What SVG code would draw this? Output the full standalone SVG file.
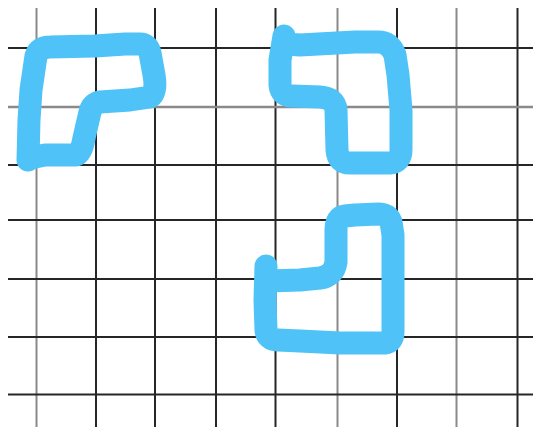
<svg xmlns="http://www.w3.org/2000/svg" width="533" height="427" viewBox="0 0 533 427">
<style>
.d{stroke:#262626;stroke-width:2}
.g{stroke:#8a8a8a;stroke-width:2}
.s{fill:none;stroke:#4FC3F7;stroke-width:23;stroke-linecap:round;stroke-linejoin:round}
</style>
<rect width="533" height="427" fill="#fff"/>
<g id="grid">
<line class="g" x1="36.5" y1="8" x2="36.5" y2="427"/>
<line class="d" x1="96" y1="8" x2="96" y2="427"/>
<line class="d" x1="155" y1="8" x2="155" y2="427"/>
<line class="d" x1="216" y1="8" x2="216" y2="427"/>
<line class="d" x1="275.5" y1="8" x2="275.5" y2="427"/>
<line class="g" x1="337.5" y1="8" x2="337.5" y2="427"/>
<line class="d" x1="397" y1="8" x2="397" y2="427"/>
<line class="g" x1="456.5" y1="8" x2="456.5" y2="427"/>
<line class="d" x1="517.5" y1="8" x2="517.5" y2="427"/>
<line class="d" x1="8" y1="48" x2="533" y2="48"/>
<line class="g" x1="8" y1="107" x2="533" y2="107" style="stroke-width:2.5"/>
<line class="d" x1="8" y1="165" x2="533" y2="165"/>
<line class="d" x1="8" y1="220" x2="533" y2="220"/>
<line class="d" x1="8" y1="279" x2="533" y2="279"/>
<line class="d" x1="8" y1="337" x2="533" y2="337"/>
<line class="d" x1="8" y1="394.5" x2="533" y2="394.5"/>
</g>
<g id="shape1">
<path class="s" d="M28,160 L29,120 L31,90 L36,56 Q39,47 50,47 L95,46 L125,44 L140,44 Q148,44 150,53 L154,75 Q157,92 150,97 L130,100 L100,102 Q92,104 90,112 L84,138 Q82,152 76,155 L45,155 L30,158"/>
</g>
<g id="shape2">
<path class="s" d="M284,36 L280,60 L280,85 Q281,96 292,96 L320,97 Q335,98 336,110 L337,150 Q338,163 350,163 L390,163 Q401,162 401,150 L401,110 L398,75 L395,55 Q390,42 378,42 L355,42 L300,45 L287,44"/>
</g>
<g id="shape3">
<path class="s" d="M266,266 L265,300 L266,330 Q267,340 278,340 L300,341 L340,343 L385,343 Q393,342 393,332 L393,290 L393,235 L391,222 Q388,214 378,214 L355,215 L345,216 Q336,217 336,230 L336,262 Q334,276 320,278 L300,280 L268,281"/>
</g>
</svg>
